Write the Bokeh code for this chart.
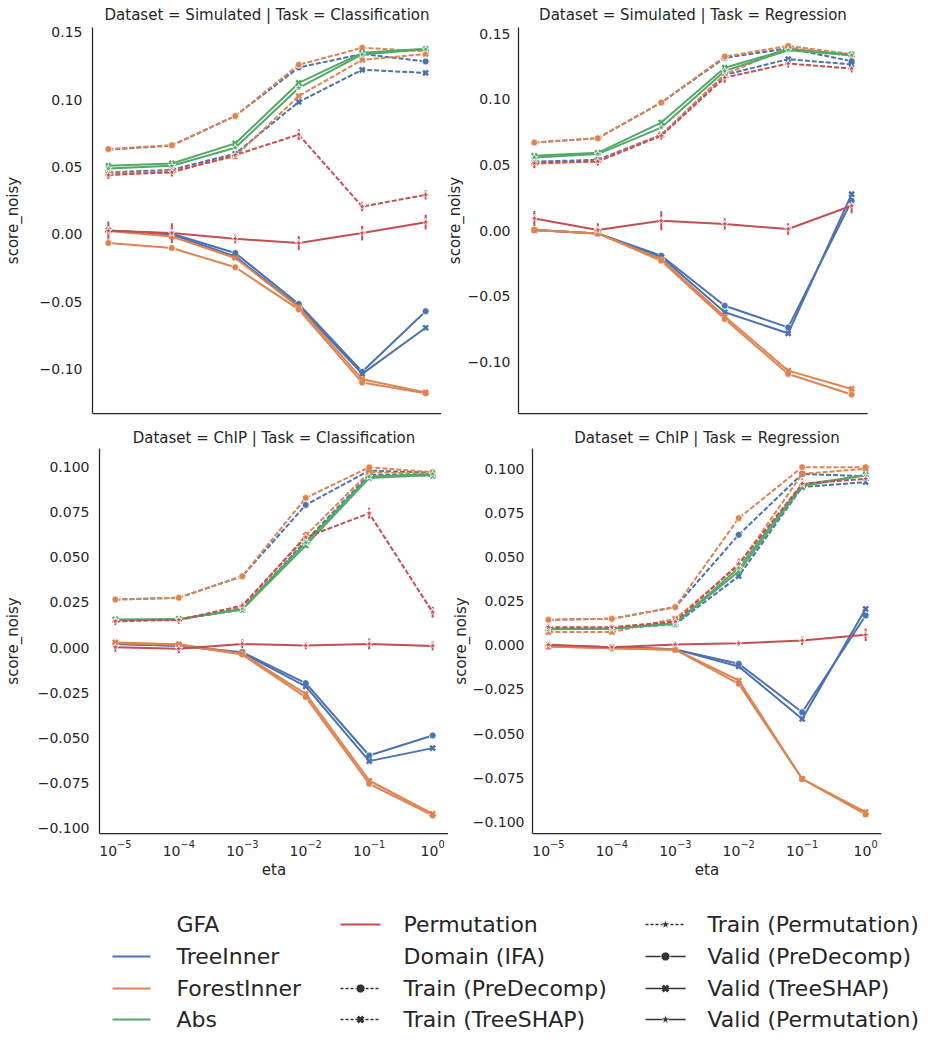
from bokeh.plotting import figure
from bokeh.layouts import column, row
from bokeh.models import Range1d, FixedTicker, CustomJSTickFormatter, ColumnDataSource
from bokeh.embed import file_html
from bokeh.resources import INLINE
from bokeh.core.properties import value

# ---------------- data ----------------
eta = [1e-5, 1e-4, 1e-3, 1e-2, 1e-1, 1.0]

gfa_levels = ["TreeInner", "ForestInner", "Abs", "Permutation"]
gfa_colors = ["#4C72B0", "#DD8452", "#55A868", "#C44E52"]
domain_levels = ["Train (PreDecomp)", "Train (TreeSHAP)", "Train (Permutation)",
                 "Valid (PreDecomp)", "Valid (TreeSHAP)", "Valid (Permutation)"]

panel_titles = ["Dataset = Simulated | Task = Classification",
                "Dataset = Simulated | Task = Regression",
                "Dataset = ChIP | Task = Classification",
                "Dataset = ChIP | Task = Regression"]

# Simulated / Classification
sim_cls = {
    ("TreeInner", "Train (PreDecomp)"): [0.063, 0.066, 0.088, 0.124, 0.134, 0.1285],
    ("TreeInner", "Train (TreeSHAP)"): [0.046, 0.048, 0.060, 0.0984, 0.1223, 0.120],
    ("TreeInner", "Valid (PreDecomp)"): [0.003, 0.0005, -0.0138, -0.0516, -0.102, -0.057],
    ("TreeInner", "Valid (TreeSHAP)"): [0.003, 0.0, -0.0163, -0.0533, -0.1036, -0.0693],
    ("ForestInner", "Train (PreDecomp)"): [0.0634, 0.0663, 0.088, 0.126, 0.1386, 0.136],
    ("ForestInner", "Train (TreeSHAP)"): [0.045, 0.047, 0.058, 0.1028, 0.1297, 0.134],
    ("ForestInner", "Valid (PreDecomp)"): [-0.0064, -0.0101, -0.0244, -0.0557, -0.110, -0.118],
    ("ForestInner", "Valid (TreeSHAP)"): [0.0025, -0.0015, -0.0175, -0.054, -0.1075, -0.1173],
    ("Abs", "Valid (TreeSHAP)"): [0.051, 0.0527, 0.0676, 0.1125, 0.1349, 0.1379],
    ("Abs", "Valid (Permutation)"): [0.049, 0.051, 0.0644, 0.1088, 0.1337, 0.1375],
    ("Permutation", "Train (Permutation)"): [0.0442, 0.0461, 0.059, 0.0742, 0.0207, 0.0294],
    ("Permutation", "Valid (Permutation)"): [0.0027, 0.001, -0.0032, -0.0064, 0.001, 0.0091],
}
sim_cls_err = {
    ("Permutation", "Train (Permutation)"): [0.003, 0.003, 0.003, 0.004, 0.0035, 0.0035],
    ("Permutation", "Valid (Permutation)"): [0.0070, 0.0074, 0.0033, 0.0052, 0.0055, 0.0055],
}

# Simulated / Regression
sim_reg = {
    ("TreeInner", "Train (PreDecomp)"): [0.0671, 0.0704, 0.0975, 0.1315, 0.1388, 0.129],
    ("TreeInner", "Train (TreeSHAP)"): [0.0525, 0.054, 0.073, 0.1186, 0.1305, 0.1265],
    ("TreeInner", "Valid (PreDecomp)"): [0.0005, -0.002, -0.019, -0.057, -0.0735, 0.0228],
    ("TreeInner", "Valid (TreeSHAP)"): [0.0005, -0.002, -0.020, -0.062, -0.078, 0.0279],
    ("ForestInner", "Train (PreDecomp)"): [0.0671, 0.0704, 0.0975, 0.1325, 0.1406, 0.1343],
    ("ForestInner", "Train (TreeSHAP)"): [0.051, 0.053, 0.073, 0.119, 0.1393, 0.133],
    ("ForestInner", "Valid (PreDecomp)"): [0.0005, -0.002, -0.0228, -0.0671, -0.1089, -0.1246],
    ("ForestInner", "Valid (TreeSHAP)"): [0.0005, -0.002, -0.0217, -0.0653, -0.1064, -0.1203],
    ("Abs", "Valid (TreeSHAP)"): [0.057, 0.0593, 0.0823, 0.124, 0.138, 0.134],
    ("Abs", "Valid (Permutation)"): [0.0557, 0.0583, 0.0785, 0.1216, 0.1373, 0.1335],
    ("Permutation", "Train (Permutation)"): [0.0514, 0.0527, 0.0722, 0.1165, 0.1272, 0.1234],
    ("Permutation", "Valid (Permutation)"): [0.0094, 0.0005, 0.0076, 0.0051, 0.0013, 0.019],
}
sim_reg_err = {
    ("Permutation", "Train (Permutation)"): [0.0038, 0.003, 0.003, 0.004, 0.003, 0.003],
    ("Permutation", "Valid (Permutation)"): [0.0057, 0.0053, 0.0073, 0.0042, 0.0045, 0.0057],
}

# ChIP / Classification
chip_cls = {
    ("TreeInner", "Train (PreDecomp)"): [0.0265, 0.0275, 0.0394, 0.0788, 0.0978, 0.0966],
    ("TreeInner", "Train (TreeSHAP)"): [0.015, 0.0155, 0.021, 0.059, 0.0955, 0.095],
    ("TreeInner", "Valid (PreDecomp)"): [0.002, 0.001, -0.0026, -0.0197, -0.0597, -0.0486],
    ("TreeInner", "Valid (TreeSHAP)"): [0.002, 0.001, -0.003, -0.0215, -0.0628, -0.0556],
    ("ForestInner", "Train (PreDecomp)"): [0.0265, 0.0275, 0.0394, 0.0827, 0.0996, 0.0969],
    ("ForestInner", "Train (TreeSHAP)"): [0.015, 0.0155, 0.022, 0.0619, 0.0969, 0.096],
    ("ForestInner", "Valid (PreDecomp)"): [0.0024, 0.0015, -0.0039, -0.0274, -0.0753, -0.0928],
    ("ForestInner", "Valid (TreeSHAP)"): [0.0028, 0.0018, -0.0035, -0.0256, -0.0735, -0.0919],
    ("Abs", "Valid (TreeSHAP)"): [0.0155, 0.0158, 0.021, 0.0564, 0.0937, 0.0954],
    ("Abs", "Valid (Permutation)"): [0.015, 0.0155, 0.0215, 0.058, 0.0945, 0.0958],
    ("Permutation", "Train (Permutation)"): [0.0145, 0.0152, 0.0232, 0.0609, 0.0742, 0.0195],
    ("Permutation", "Valid (Permutation)"): [0.0002, -0.0007, 0.002, 0.0011, 0.002, 0.0009],
}
chip_cls_err = {
    ("Permutation", "Train (Permutation)"): [0.002, 0.002, 0.002, 0.003, 0.003, 0.003],
    ("Permutation", "Valid (Permutation)"): [0.0025, 0.0025, 0.0025, 0.002, 0.003, 0.0025],
}

# ChIP / Regression
chip_reg = {
    ("TreeInner", "Train (PreDecomp)"): [0.0146, 0.0152, 0.0218, 0.0629, 0.0975, 0.0962],
    ("TreeInner", "Train (TreeSHAP)"): [0.0095, 0.0097, 0.012, 0.0394, 0.090, 0.0928],
    ("TreeInner", "Valid (PreDecomp)"): [0.0, -0.001, -0.0022, -0.0104, -0.0379, 0.017],
    ("TreeInner", "Valid (TreeSHAP)"): [0.0, -0.001, -0.0022, -0.0119, -0.0417, 0.0208],
    ("ForestInner", "Train (PreDecomp)"): [0.0146, 0.0152, 0.0218, 0.0723, 0.1013, 0.1013],
    ("ForestInner", "Train (TreeSHAP)"): [0.0076, 0.0076, 0.0152, 0.0455, 0.0975, 0.1004],
    ("ForestInner", "Valid (PreDecomp)"): [-0.0006, -0.0015, -0.0024, -0.0218, -0.0758, -0.096],
    ("ForestInner", "Valid (TreeSHAP)"): [-0.0006, -0.0015, -0.0024, -0.0199, -0.0758, -0.0947],
    ("Abs", "Valid (TreeSHAP)"): [0.0095, 0.0097, 0.0127, 0.042, 0.0905, 0.097],
    ("Abs", "Valid (Permutation)"): [0.0092, 0.0095, 0.0125, 0.044, 0.0915, 0.0965],
    ("Permutation", "Train (Permutation)"): [0.0104, 0.0104, 0.0136, 0.0464, 0.0919, 0.0947],
    ("Permutation", "Valid (Permutation)"): [0.0004, -0.001, 0.0006, 0.0013, 0.0028, 0.0061],
}
chip_reg_err = {
    ("Permutation", "Train (Permutation)"): [0.002, 0.002, 0.002, 0.003, 0.003, 0.003],
    ("Permutation", "Valid (Permutation)"): [0.002, 0.0015, 0.0015, 0.0015, 0.0025, 0.0035],
}

sim_yticks = [-0.10, -0.05, 0.0, 0.05, 0.10, 0.15]
chip_yticks = [-0.100, -0.075, -0.050, -0.025, 0.0, 0.025, 0.050, 0.075, 0.100]

# ---------------- styling ----------------
FONT = "DejaVu Sans"
TXT = "#262626"
color_of = dict(zip(gfa_levels, gfa_colors))
marker_of = {"PreDecomp": "circle", "TreeSHAP": "x", "Permutation": "star"}


def dom_marker(dom):
    return marker_of[dom.split("(")[1].rstrip(")")]


def make_panel(title, data, errs, yr, yticks, digits, show_x, left_b, tick_std, lab_std,
               top_b, bot_b, fh, right_b, title_std):
    p = figure(x_axis_type="log", x_range=Range1d(10 ** -5.25, 10 ** 0.25),
               y_range=Range1d(*yr), frame_width=349, frame_height=fh,
               output_backend="svg", toolbar_location=None,
               min_border_left=left_b, min_border_right=right_b,
               min_border_top=top_b, min_border_bottom=bot_b)
    p.title.text = title
    p.title.align = "center"
    p.title.text_font = FONT
    p.title.text_font_size = "15px"
    p.title.text_font_style = "normal"
    p.title.text_color = TXT
    p.title.standoff = title_std
    p.outline_line_color = None
    p.grid.visible = False
    p.background_fill_color = "white"
    for ax in (p.xaxis[0], p.yaxis[0]):
        ax.axis_line_color = TXT
        ax.axis_line_width = 1.25
        ax.major_tick_out = 0
        ax.major_tick_in = 0
        ax.minor_tick_line_color = None
        ax.major_label_text_font = FONT
        ax.major_label_text_font_size = "14px"
        ax.major_label_text_color = TXT
        ax.axis_label_text_font = FONT
        ax.axis_label_text_font_size = "15px"
        ax.axis_label_text_font_style = "normal"
        ax.axis_label_text_color = TXT
    p.yaxis.ticker = FixedTicker(ticks=yticks)
    p.yaxis.formatter = CustomJSTickFormatter(
        code="return (tick < -1e-12 ? '\u2212' : '') + Math.abs(tick).toFixed(%d);" % digits)
    p.yaxis.axis_label = "score_noisy"
    p.yaxis.major_label_standoff = tick_std
    p.yaxis.axis_label_standoff = lab_std
    if show_x:
        p.xaxis.ticker = FixedTicker(ticks=eta)
        p.xaxis.axis_label = "eta"
        p.xaxis.major_label_standoff = 6
        p.xaxis.axis_label_standoff = 2
    else:
        p.xaxis.ticker = FixedTicker(ticks=[])

    # error bars, then lines, then markers
    for (g, d), ys in data.items():
        if (g, d) in errs:
            e = errs[(g, d)]
            src = ColumnDataSource(dict(x=eta, lo=[y - v for y, v in zip(ys, e)],
                                        hi=[y + v for y, v in zip(ys, e)]))
            p.segment(x0="x", x1="x", y0="lo", y1="hi", source=src,
                      line_color=color_of[g], line_width=2)
    for (g, d), ys in data.items():
        src = ColumnDataSource(dict(x=eta, y=ys))
        dash = "5 2" if d.startswith("Train") else "solid"
        p.line("x", "y", source=src, line_color=color_of[g], line_width=2, line_dash=dash)
        m = dom_marker(d)
        if m == "x":
            p.scatter("x", "y", source=src, marker="x", size=7, line_color=color_of[g], line_width=2.5)
        else:
            p.scatter("x", "y", source=src, marker=m, size=8 if m == "star" else 7,
                      fill_color=color_of[g], line_color="white", line_width=0.8)
    return p


p1 = make_panel(panel_titles[0], sim_cls, sim_cls_err, (-0.133, 0.1537), sim_yticks, 2,
                False, 92, 10, 15, 27, 11, 386, 0, 7)
p2 = make_panel(panel_titles[1], sim_reg, sim_reg_err, (-0.139, 0.1546), sim_yticks, 2,
                False, 77, 8, 1, 27, 11, 386, 10, 7)
p3 = make_panel(panel_titles[2], chip_cls, chip_cls_err, (-0.1028, 0.110), chip_yticks, 3,
                True, 92, 10, 13, 23, 47, 385, 0, 4)
p4 = make_panel(panel_titles[3], chip_reg, chip_reg_err, (-0.1068, 0.1119), chip_yticks, 3,
                True, 77, 8, 0, 23, 47, 385, 10, 4)

# ---------------- legend ----------------
leg_rows = [43, 75, 107, 138]
leg = figure(width=926, height=160, x_range=Range1d(0, 926), y_range=Range1d(160, 0),
             output_backend="svg", toolbar_location=None, x_axis_location=None,
             y_axis_location=None, min_border=0)
leg.outline_line_color = None
leg.grid.visible = False

col1_labels = ["GFA"] + gfa_levels[:3]
col2_labels = [gfa_levels[3], "Domain (IFA)", domain_levels[0], domain_levels[1]]
col3_labels = [domain_levels[2], domain_levels[3], domain_levels[4], domain_levels[5]]

text_kw = dict(text_font=value(FONT), text_font_size=value("22px"), text_color=TXT,
               text_baseline="middle", text_align="left")
leg.text(x=[176] * 4, y=leg_rows, text=col1_labels, **text_kw)
leg.text(x=[403] * 4, y=leg_rows, text=col2_labels, **text_kw)
leg.text(x=[707] * 4, y=leg_rows, text=col3_labels, **text_kw)

# hue samples
for i, g in enumerate(gfa_levels[:3]):
    leg.line([112, 150], [leg_rows[i + 1]] * 2, line_color=color_of[g], line_width=2)
leg.line([340, 380], [leg_rows[0]] * 2, line_color=color_of["Permutation"], line_width=2)

STYLE = "#333333"
style_slots = [(340, leg_rows[2], domain_levels[0]), (340, leg_rows[3], domain_levels[1]),
               (645, leg_rows[0], domain_levels[2]), (645, leg_rows[1], domain_levels[3]),
               (645, leg_rows[2], domain_levels[4]), (645, leg_rows[3], domain_levels[5])]
for x0, yy, d in style_slots:
    dash = "3 2" if d.startswith("Train") else "solid"
    leg.line([x0, x0 + 40], [yy, yy], line_color=STYLE, line_width=1.6, line_dash=dash)
    m = dom_marker(d)
    if m == "x":
        leg.scatter([x0 + 20], [yy], marker="x", size=8, line_color=STYLE, line_width=3)
    else:
        leg.scatter([x0 + 20], [yy], marker=m, size=10 if m == "star" else 9,
                    fill_color=STYLE, line_color="white", line_width=0.8)

layout = column(row(p1, p2), row(p3, p4), leg)
open("out.html", "w").write(file_html(layout, INLINE))
